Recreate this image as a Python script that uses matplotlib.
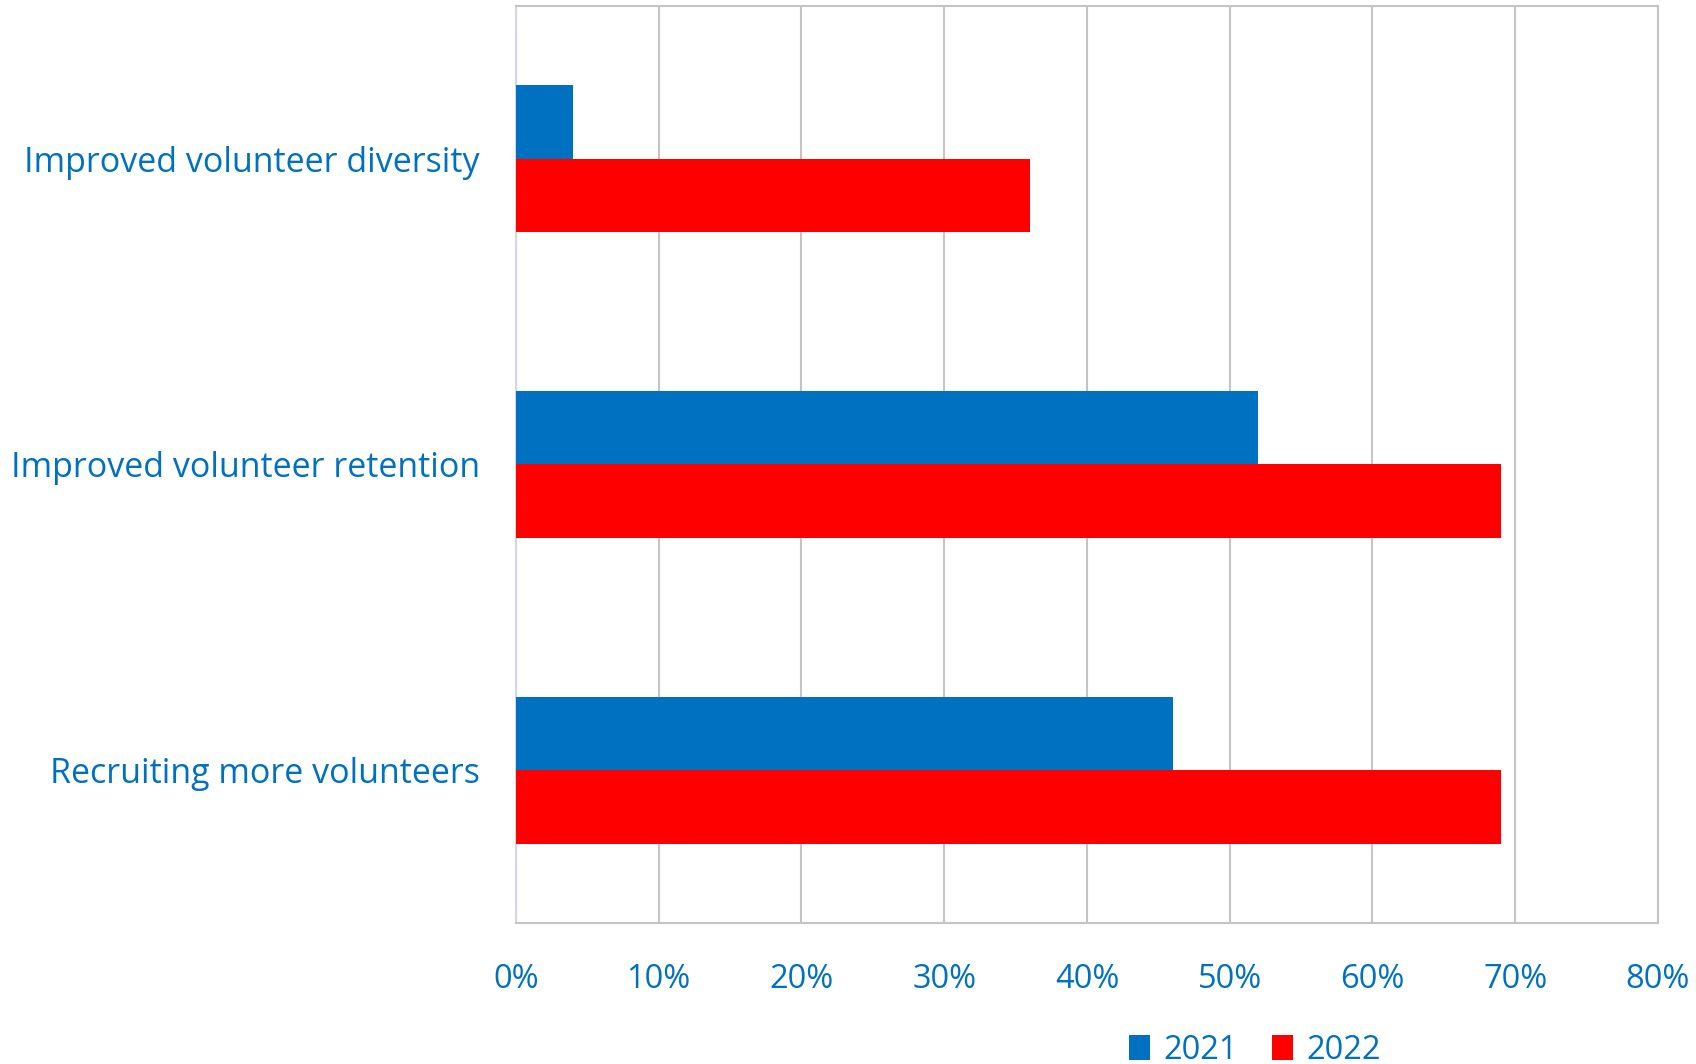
import numpy as np
import matplotlib.pyplot as plt
from matplotlib.ticker import FuncFormatter

categories = ['Recruiting more volunteers', 'Improved volunteer retention', 'Improved volunteer diversity']
values_2021 = [46, 52, 4]
values_2022 = [69, 69, 36]
years = ['2021', '2022']
colors = ['#0070C0', '#FF0000']
text_color = '#0070C0'

plt.rcParams['font.family'] = ['Open Sans', 'DejaVu Sans']

fig = plt.figure(figsize=(16.96, 10.64), dpi=100)
ax = fig.add_axes([0.3042, 0.1325, 0.6734, 0.862])

y = np.arange(len(categories))
h = 0.24
ax.barh(y + h / 2, values_2021, height=h, color=colors[0], label=years[0], zorder=3)
ax.barh(y - h / 2, values_2022, height=h, color=colors[1], label=years[1], zorder=3)

ax.set_xlim(0, 80)
ax.set_ylim(-0.5, 2.5)
ax.set_xticks(np.arange(0, 81, 10))
ax.xaxis.set_major_formatter(FuncFormatter(lambda v, p: f'{int(v)}%'))
ax.set_yticks(y)
ax.set_yticklabels(categories)
ax.tick_params(axis='x', length=0, pad=29, labelsize=23.5, labelcolor=text_color)
ax.tick_params(axis='y', length=0, pad=26, labelsize=24.5, labelcolor=text_color)

ax.grid(axis='x', color='#C4C4C4', linewidth=1.5, zorder=0)
for s in ['top', 'right', 'bottom']:
    ax.spines[s].set_color('#C4C4C4')
    ax.spines[s].set_linewidth(1.5)
ax.spines['left'].set_color('#D4D4EE')
ax.spines['left'].set_linewidth(1.5)

fig.legend(loc='center', bbox_to_anchor=(0.74, 0.013), ncol=2, frameon=False,
           fontsize=23.5, labelcolor=text_color, handlelength=0.65, handleheight=0.8,
           handletextpad=0.4, columnspacing=1.05)

fig.savefig('out.png', dpi=100)
